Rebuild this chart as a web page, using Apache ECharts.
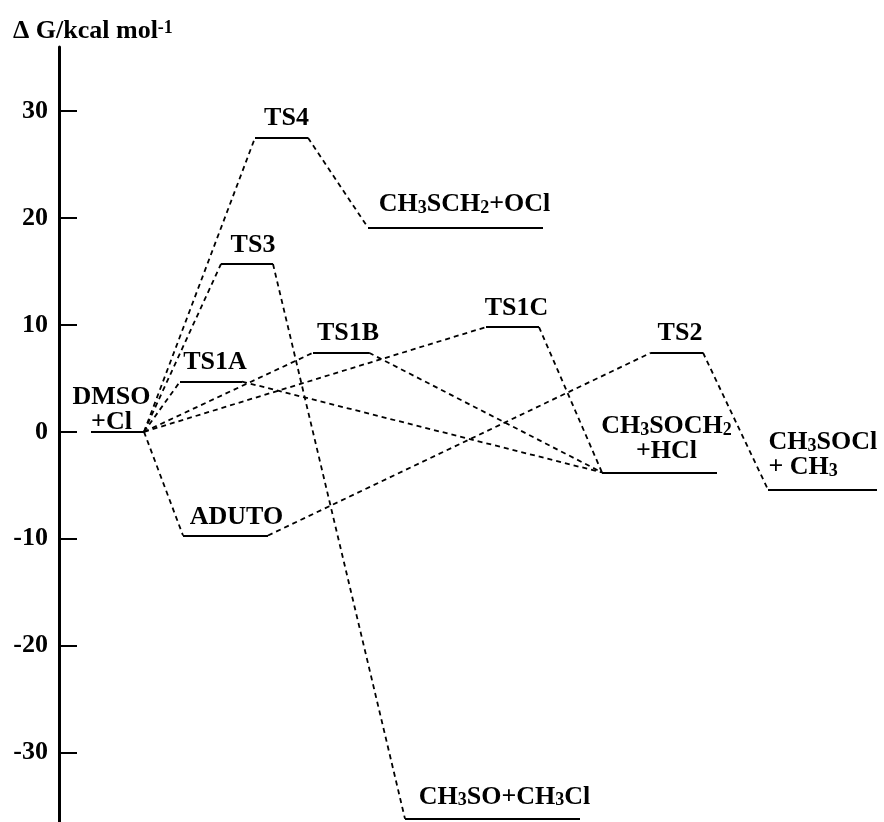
<!DOCTYPE html>
<html>
<head>
<meta charset="utf-8">
<script src="https://cdn.jsdelivr.net/npm/echarts@6/dist/echarts.min.js"></script>
<style>html,body{margin:0;padding:0;background:#fff;}#c{width:884px;height:822px;}</style>
</head>
<body>
<div id="c"></div>
<script>
// Energy levels (reaction coordinate start/end, ΔG in kcal/mol)
const levelNames  = ['DMSO+Cl','TS1A','TS1B','TS1C','TS2','TS3','TS4','ADUTO','CH3SOCH2+HCl','CH3SOCl+CH3','CH3SCH2+OCl','CH3SO+CH3Cl'];
const levelStart  = [32, 121, 254, 427, 592, 162, 196, 124, 543, 709, 309, 346];
const levelEnd    = [85, 183, 310, 480, 644, 214, 249, 209, 658, 818, 484, 521];
const levelEnergy = [0, 4.7, 7.4, 9.8, 7.4, 15.7, 27.5, -9.7, -3.8, -5.4, 19.1, -36.2];
// Reaction paths (from level -> to level)
const pathFrom = ['DMSO+Cl','TS4','DMSO+Cl','TS3','DMSO+Cl','TS1A','DMSO+Cl','TS1B','DMSO+Cl','TS1C','DMSO+Cl','ADUTO','TS2'];
const pathTo   = ['TS4','CH3SCH2+OCl','TS3','CH3SO+CH3Cl','TS1A','CH3SOCH2+HCl','TS1B','CH3SOCH2+HCl','TS1C','CH3SOCH2+HCl','ADUTO','TS2','CH3SOCl+CH3'];
// Y axis tick labels
const yTicks = [-30, -20, -10, 0, 10, 20, 30];

// Label texts (rich text with subscripts)
const labelText = {
  'DMSO+Cl': '{b|DMSO}\n{b|+Cl}',
  'TS1A': '{b|TS1A}', 'TS1B': '{b|TS1B}', 'TS1C': '{b|TS1C}', 'TS2': '{b|TS2}',
  'TS3': '{b|TS3}', 'TS4': '{b|TS4}', 'ADUTO': '{b|ADUTO}',
  'CH3SOCH2+HCl': '{b|CH}{s|3}{b|SOCH}{s|2}\n{b|+HCl}',
  'CH3SOCl+CH3': '{b|CH}{s|3}{b|SOCl}\n{b|+ CH}{s|3}',
  'CH3SCH2+OCl': '{b|CH}{s|3}{b|SCH}{s|2}{b|+OCl}',
  'CH3SO+CH3Cl': '{b|CH}{s|3}{b|SO+CH}{s|3}{b|Cl}'
};
// label styling offsets (px)
const labelStyle = {
  'DMSO+Cl': {offset: [-6, 9]},
  'TS1A': {offset: [4, 0]}, 'TS1B': {offset: [7, 0]}, 'TS1C': {offset: [4, 0]}, 'TS2': {offset: [3, 0]},
  'TS3': {offset: [6, 0]}, 'TS4': {offset: [5, -1]}, 'ADUTO': {offset: [11, 1]},
  'CH3SOCH2+HCl': {offset: [7, -2]},
  'CH3SOCl+CH3': {offset: [-54, -3], align: 'left'},
  'CH3SCH2+OCl': {offset: [9, -4]},
  'CH3SO+CH3Cl': {offset: [12, -3]}
};

const FONT = '"Liberation Serif","Times New Roman",serif';
const rich = {
  b: {fontFamily: FONT, fontWeight: 'bold', fontSize: 26, lineHeight: 25, color: '#000'},
  s: {fontFamily: FONT, fontWeight: 'bold', fontSize: 18, lineHeight: 14, verticalAlign: 'bottom', color: '#000'},
  sup: {fontFamily: FONT, fontWeight: 'bold', fontSize: 18, lineHeight: 15, verticalAlign: 'top', color: '#000'}
};

const idx = n => levelNames.indexOf(n);
const levelLines = levelNames.map((n, i) => ({coords: [[levelStart[i], levelEnergy[i]], [levelEnd[i], levelEnergy[i]]]}));
const pathLines = pathFrom.map((f, k) => {
  const a = idx(f), b = idx(pathTo[k]);
  return {coords: [[levelEnd[a], levelEnergy[a]], [levelStart[b], levelEnergy[b]]]};
});
const labelData = levelNames.map((n, i) => {
  const st = labelStyle[n] || {};
  return {
    value: [(levelStart[i] + levelEnd[i]) / 2, levelEnergy[i]],
    label: Object.assign({formatter: labelText[n]}, st)
  };
});

const chart = echarts.init(document.getElementById('c'), null, {renderer: 'canvas'});
chart.setOption({
  backgroundColor: '#fff',
  animation: false,
  title: {
    text: '{b|Δ G/kcal mol}{sup|-1}',
    left: 8, top: 14,
    textStyle: {rich: rich}
  },
  grid: {left: 59, right: 0, top: 47, bottom: 0, containLabel: false},
  xAxis: {type: 'value', min: 0, max: 825, show: false},
  yAxis: {
    type: 'value', min: -36.5, max: 36,
    axisLine: {show: true, lineStyle: {color: '#000', width: 3}},
    axisTick: {show: true, inside: true, length: 18, lineStyle: {color: '#000', width: 2}, customValues: yTicks},
    axisLabel: {show: true, margin: 11, customValues: yTicks, fontFamily: FONT, fontWeight: 'bold', fontSize: 26, color: '#000'},
    splitLine: {show: false}
  },
  series: [
    {
      type: 'lines', coordinateSystem: 'cartesian2d', silent: true,
      lineStyle: {color: '#000', width: 1.8, type: [5, 4], opacity: 1},
      data: pathLines
    },
    {
      type: 'lines', coordinateSystem: 'cartesian2d', silent: true,
      lineStyle: {color: '#000', width: 2, type: 'solid', opacity: 1},
      data: levelLines
    },
    {
      type: 'scatter', symbolSize: 1, silent: true,
      itemStyle: {color: 'rgba(0,0,0,0)', opacity: 1},
      label: {show: true, position: 'top', distance: 6, rich: rich, lineHeight: 25, color: '#000', opacity: 1},
      data: labelData
    }
  ]
});
</script>
</body>
</html>
